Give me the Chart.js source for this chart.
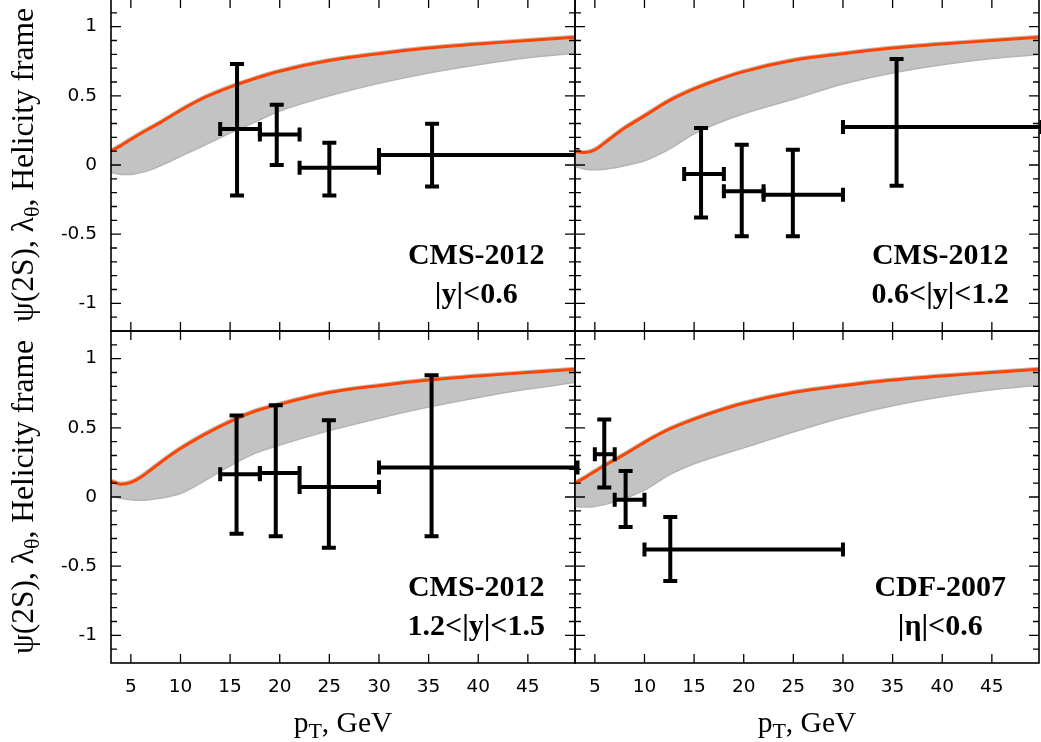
<!DOCTYPE html>
<html><head><meta charset="utf-8">
<script src="https://cdn.jsdelivr.net/npm/chart.js@4.4.1/dist/chart.umd.min.js"></script>
<style>
html,body{margin:0;padding:0;background:#fff;width:1041px;height:742px;overflow:hidden}
#wrap{position:relative;width:1041px;height:742px;overflow:hidden}
canvas{position:absolute;left:0;top:-1px;width:1041px;height:743px}
</style></head><body><div id="wrap"></div>
<script>
// ---- tick labels ----
const xTicks = [5, 10, 15, 20, 25, 30, 35, 40, 45];
const yTicks = [-1, -0.5, 0, 0.5, 1];

// ---- theory grid (pT, GeV) ----
const thX = [3, 4, 5, 6, 7, 8, 10, 12.5, 15, 17.5, 20, 25, 30, 35, 40, 45, 50];

// CMS |y|<0.6 : central (red) curve and lower edge of band
const thC_y06  = [0.10, 0.14, 0.185, 0.228, 0.268, 0.308, 0.395, 0.49, 0.563, 0.625, 0.678, 0.755, 0.805, 0.845, 0.875, 0.90, 0.925];
const thL_y06  = [-0.055, -0.068, -0.068, -0.055, -0.035, -0.005, 0.062, 0.145, 0.23, 0.31, 0.39, 0.50, 0.59, 0.665, 0.725, 0.775, 0.81];
// CMS 0.6<|y|<1.2
const thC_y12  = [0.098, 0.09, 0.11, 0.16, 0.215, 0.267, 0.355, 0.465, 0.55, 0.618, 0.675, 0.757, 0.805, 0.845, 0.875, 0.90, 0.925];
const thL_y12  = [-0.01, -0.03, -0.034, -0.03, -0.02, -0.005, 0.03, 0.115, 0.225, 0.305, 0.37, 0.475, 0.585, 0.665, 0.725, 0.77, 0.80];
// CMS 1.2<|y|<1.5
const thC_y15  = [0.115, 0.093, 0.105, 0.143, 0.195, 0.25, 0.35, 0.455, 0.545, 0.62, 0.67, 0.755, 0.805, 0.845, 0.875, 0.90, 0.925];
const thL_y15  = [0.01, -0.01, -0.02, -0.024, -0.018, -0.008, 0.025, 0.12, 0.225, 0.315, 0.375, 0.48, 0.57, 0.65, 0.72, 0.78, 0.83];
// CDF |eta|<0.6
const thC_cdf  = [0.10, 0.14, 0.185, 0.228, 0.268, 0.308, 0.395, 0.49, 0.563, 0.625, 0.678, 0.755, 0.805, 0.845, 0.875, 0.90, 0.925];
const thL_cdf  = [-0.07, -0.072, -0.068, -0.055, -0.035, -0.01, 0.05, 0.16, 0.24, 0.30, 0.355, 0.47, 0.575, 0.66, 0.725, 0.775, 0.81];

// ---- data points ----
const cms06_x    = [15.7, 19.7, 25.0, 35.35];
const cms06_xlo  = [14, 18, 22, 30];
const cms06_xhi  = [18, 22, 30, 50];
const cms06_y    = [0.26, 0.22, -0.02, 0.072];
const cms06_ylo  = [-0.22, 0.0, -0.22, -0.155];
const cms06_yhi  = [0.73, 0.435, 0.16, 0.298];

const cms12_x    = [15.7, 19.8, 24.95, 35.4];
const cms12_xlo  = [14, 18, 22, 30];
const cms12_xhi  = [18, 22, 30, 50];
const cms12_y    = [-0.065, -0.19, -0.215, 0.274];
const cms12_ylo  = [-0.38, -0.515, -0.515, -0.15];
const cms12_yhi  = [0.267, 0.147, 0.11, 0.767];

const cms15_x    = [15.65, 19.6, 24.95, 35.3];
const cms15_xlo  = [14, 18, 22, 30];
const cms15_xhi  = [18, 22, 30, 50];
const cms15_y    = [0.164, 0.174, 0.072, 0.213];
const cms15_ylo  = [-0.265, -0.284, -0.366, -0.284];
const cms15_yhi  = [0.59, 0.663, 0.555, 0.88];

const cdf_x      = [5.95, 8.1, 12.6];
const cdf_xlo    = [5, 7, 10];
const cdf_xhi    = [7, 10, 30];
const cdf_y      = [0.309, -0.019, -0.38];
const cdf_ylo    = [0.068, -0.217, -0.607];
const cdf_yhi    = [0.56, 0.188, -0.145];

function xy(xs, ys){ return xs.map((x,i)=>({x:x, y:ys[i]})); }
function pts(x, xlo, xhi, y, ylo, yhi){
  return x.map((v,i)=>({x:v, y:y[i], xMin:xlo[i], xMax:xhi[i], yMin:ylo[i], yMax:yhi[i]}));
}

const panels = [
  {id:'tl', L:111, R:575, T:0,   B:332, xl:false, yl:true,
   c:thC_y06, l:thL_y06, p:pts(cms06_x,cms06_xlo,cms06_xhi,cms06_y,cms06_ylo,cms06_yhi),
   t1:'CMS-2012', t2:'|y|<0.6'},
  {id:'tr', L:575, R:1039, T:0,  B:332, xl:false, yl:false,
   c:thC_y12, l:thL_y12, p:pts(cms12_x,cms12_xlo,cms12_xhi,cms12_y,cms12_ylo,cms12_yhi),
   t1:'CMS-2012', t2:'0.6<|y|<1.2'},
  {id:'bl', L:111, R:575, T:332, B:664, xl:true, yl:true,
   c:thC_y15, l:thL_y15, p:pts(cms15_x,cms15_xlo,cms15_xhi,cms15_y,cms15_ylo,cms15_yhi),
   t1:'CMS-2012', t2:'1.2<|y|<1.5'},
  {id:'br', L:575, R:1039, T:332, B:664, xl:true, yl:false,
   c:thC_cdf, l:thL_cdf, p:pts(cdf_x,cdf_xlo,cdf_xhi,cdf_y,cdf_ylo,cdf_yhi),
   t1:'CDF-2007', t2:'|η|<0.6'}
];

const W = 1041, H = 743;
const SERIF = '"Liberation Serif", "Times New Roman", serif';

function richText(ctx, parts, size, subSize, subDrop){
  let w = 0;
  for (const p of parts){ ctx.font = (p.sub?subSize:size)+'px '+SERIF; p.w = ctx.measureText(p.t).width; w += p.w; }
  let x = -w/2;
  for (const p of parts){
    ctx.font = (p.sub?subSize:size)+'px '+SERIF;
    ctx.fillText(p.t, x, p.sub?subDrop:0);
    x += p.w;
  }
}

function makeDeco(pn){
  return {
    id: 'deco_'+pn.id,
    afterDatasetsDraw(chart){
      const xs = chart.scales.x, ys = chart.scales.y, ctx = chart.ctx;
      ctx.save();
      ctx.strokeStyle = '#000'; ctx.lineWidth = 4; ctx.lineCap = 'butt';
      const cap = 7;
      for (const d of chart.data.datasets[3].data){
        const px = xs.getPixelForValue(d.x), py = ys.getPixelForValue(d.y);
        const xa = xs.getPixelForValue(d.xMin), xb = xs.getPixelForValue(d.xMax);
        const ya = ys.getPixelForValue(d.yMin), yb = ys.getPixelForValue(d.yMax);
        ctx.beginPath();
        ctx.moveTo(xa, py); ctx.lineTo(xb, py);
        ctx.moveTo(px, ya); ctx.lineTo(px, yb);
        ctx.moveTo(xa, py-cap); ctx.lineTo(xa, py+cap);
        ctx.moveTo(xb, py-cap); ctx.lineTo(xb, py+cap);
        ctx.moveTo(px-cap, ya); ctx.lineTo(px+cap, ya);
        ctx.moveTo(px-cap, yb); ctx.lineTo(px+cap, yb);
        ctx.stroke();
      }
      ctx.restore();
    },
    afterDraw(chart){
      const xs = chart.scales.x, ys = chart.scales.y, ctx = chart.ctx;
      const a = chart.chartArea;
      ctx.save();
      ctx.strokeStyle = '#000';
      // minor/major y ticks (inward, both sides)
      ctx.lineWidth = 1.3;
      ctx.beginPath();
      for (let i = -11; i <= 11; i++){
        const py = ys.getPixelForValue(i/10);
        const len = (i % 5 === 0) ? 10 : 6;
        ctx.moveTo(a.left, py); ctx.lineTo(a.left+len, py);
        ctx.moveTo(a.right, py); ctx.lineTo(a.right-len, py);
      }
      for (const v of xTicks){
        const px = xs.getPixelForValue(v);
        ctx.moveTo(px, a.bottom); ctx.lineTo(px, a.bottom-9);
        ctx.moveTo(px, a.top); ctx.lineTo(px, a.top+9);
      }
      ctx.stroke();
      // frame
      ctx.lineWidth = 1.6;
      ctx.strokeRect(a.left, a.top, a.right-a.left, a.bottom-a.top);
      // annotations
      ctx.fillStyle = '#000';
      ctx.font = 'bold 30px '+SERIF;
      ctx.textAlign = 'center'; ctx.textBaseline = 'alphabetic';
      const ax = xs.getPixelForValue(39.8);
      ctx.fillText(pn.t1, ax, ys.getPixelForValue(-0.715));
      ctx.fillText(pn.t2, ax, ys.getPixelForValue(-1.0));
      // axis titles
      ctx.textAlign = 'left';
      if (pn.yl){
        ctx.save();
        ctx.translate(33, (a.top+a.bottom)/2);
        ctx.rotate(-Math.PI/2);
        richText(ctx, [{t:'ψ(2S), λ'},{t:'θ',sub:true},{t:', Helicity frame'}], 31.5, 22, 6);
        ctx.restore();
      }
      if (pn.xl){
        ctx.save();
        ctx.translate((a.left+a.right)/2, 732.7);
        richText(ctx, [{t:'p'},{t:'T',sub:true},{t:', GeV'}], 29.5, 22, 6);
        ctx.restore();
      }
      ctx.restore();
    }
  };
}

const wrap = document.getElementById('wrap');
for (const pn of panels){
  const cv = document.createElement('canvas');
  cv.width = W; cv.height = H;
  wrap.appendChild(cv);
  new Chart(cv.getContext('2d'), {
    type: 'line',
    data: {
      datasets: [
        {label:'band top', data: xy(thX, pn.c), borderColor:'#bcbcbc', borderWidth:5,
         pointRadius:0, fill:false, cubicInterpolationMode:'monotone', order:3},
        {label:'band', data: xy(thX, pn.l), borderColor:'#b4b4b4', borderWidth:1.5,
         backgroundColor:'#c3c3c3', pointRadius:0, fill:'-1', cubicInterpolationMode:'monotone', order:2},
        {label:'theory', data: xy(thX, pn.c), borderColor:'#ff4500', borderWidth:3,
         pointRadius:0, fill:false, cubicInterpolationMode:'monotone', order:1},
        {label:'data', data: pn.p, showLine:false, pointRadius:0, borderColor:'#000', order:0}
      ]
    },
    options: {
      responsive:false, animation:false, devicePixelRatio:1,
      events: [],
      layout: {padding:{left:0, top:pn.T, right:W-pn.R, bottom:0}},
      plugins: {legend:{display:false}, tooltip:{enabled:false}, title:{display:false}},
      scales: {
        x: {type:'linear', position:'bottom', min:3, max:49.75,
            grid:{display:false, drawTicks:false}, border:{display:false},
            ticks:{display:pn.xl, padding:13, color:'#000', font:{family:'"DejaVu Sans"', size:18.5},
                   maxRotation:0, autoSkip:false, callback:v=>String(v)},
            afterBuildTicks: s => { s.ticks = xTicks.map(v=>({value:v})); },
            afterFit: s => { s.height = H - pn.B; s.paddingLeft = 0; s.paddingRight = 0; }},
        y: {type:'linear', position:'left', min:-1.2, max:1.2,
            grid:{display:false, drawTicks:false}, border:{display:false},
            ticks:{display:pn.yl, padding:14, color:'#000', font:{family:'"DejaVu Sans"', size:18.5},
                   autoSkip:false, callback:v=>String(v)},
            afterBuildTicks: s => { s.ticks = yTicks.map(v=>({value:v})); },
            afterFit: s => { s.width = pn.L; s.paddingTop = 0; s.paddingBottom = 0; }}
      }
    },
    plugins: [makeDeco(pn)]
  });
}
</script></body></html>
